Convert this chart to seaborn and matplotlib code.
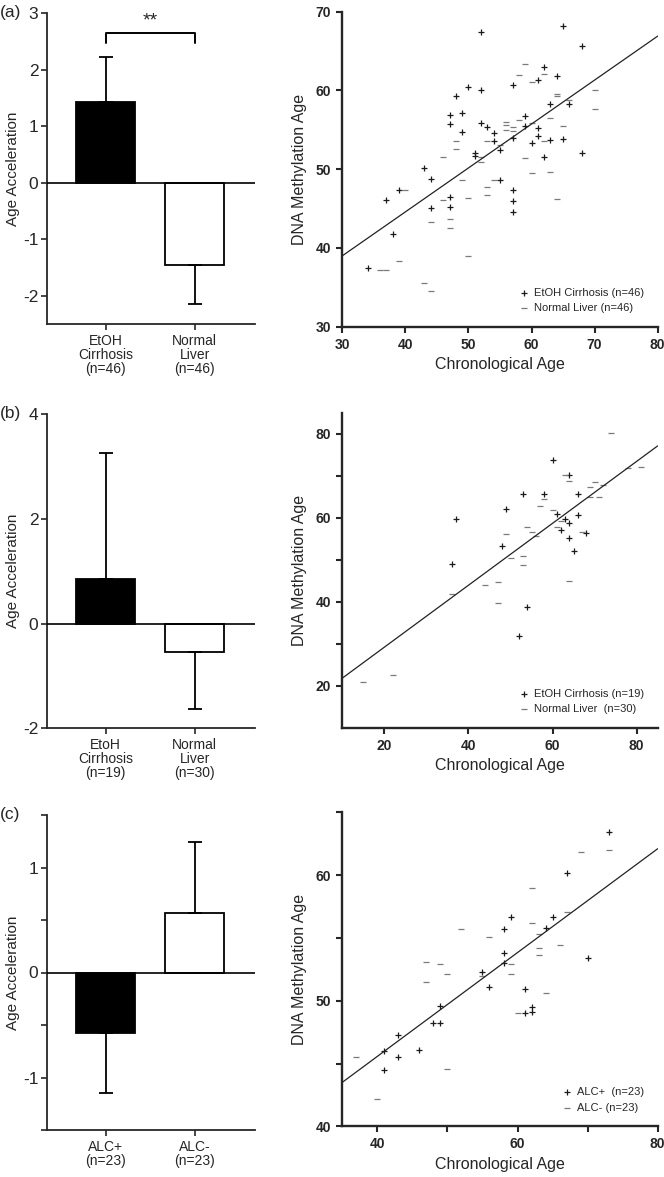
import matplotlib
matplotlib.use("Agg")
import matplotlib.pyplot as plt
import pandas as pd
import seaborn as sns
from matplotlib.ticker import FixedLocator

# ---- panel (a) ----
bar_a_labels = ["EtOH\nCirrhosis\n(n=46)", "Normal\nLiver\n(n=46)"]
bar_a_means = [1.43, -1.45]
bar_a_errs = [0.80, 0.70]

sc_a_plus_x = [52, 65, 68, 62, 61, 64, 57, 50, 52, 48, 47, 47, 49, 49, 52, 53, 54, 54, 59, 59,
               61, 61, 63, 66, 57, 60, 63, 65, 51, 51, 55, 62, 68, 43, 44, 55, 39, 57, 37, 47,
               47, 44, 57, 57, 38, 34]
sc_a_plus_y = [67.4, 68.2, 65.6, 63.0, 61.3, 61.8, 60.7, 60.5, 60.1, 59.3, 56.9, 55.8, 57.2, 54.7,
               55.9, 55.4, 54.6, 53.6, 56.8, 55.5, 55.2, 54.2, 58.3, 58.3, 53.9, 53.3, 53.7, 53.8,
               52.1, 51.7, 52.4, 51.6, 52.1, 50.2, 48.7, 48.6, 47.4, 47.4, 46.1, 46.5, 45.2, 45.1,
               45.9, 44.6, 41.8, 37.5]
sc_a_minus_x = [59, 58, 62, 60, 64, 64, 70, 70, 66, 63, 65, 62, 56, 56, 56, 57, 58, 59, 60, 63,
                53, 54, 52, 52, 48, 48, 46, 49, 40, 53, 53, 50, 46, 64, 47, 47, 44, 50, 39, 36,
                37, 43, 44, 57, 55, 60]
sc_a_minus_y = [63.4, 62.0, 62.1, 61.1, 59.6, 59.3, 60.1, 57.7, 58.8, 56.5, 55.5, 53.6, 56.0, 55.6,
                55.0, 54.8, 56.2, 51.4, 49.5, 49.7, 53.6, 48.6, 51.6, 50.9, 53.6, 52.6, 51.6, 48.6,
                47.4, 47.7, 46.7, 46.4, 46.1, 46.2, 43.7, 42.5, 43.3, 39.0, 38.4, 37.2, 37.2, 35.6,
                34.5, 55.3, 53.1, 55.9]
fit_a_x = [30, 80]
fit_a_y = [39.0, 66.9]

# ---- panel (b) ----
bar_b_labels = ["EtoH\nCirrhosis\n(n=19)", "Normal\nLiver\n(n=30)"]
bar_b_means = [0.85, -0.54]
bar_b_errs = [2.41, 1.10]

sc_b_plus_x = [60, 64, 53, 58, 49, 37, 61, 66, 63, 64, 62, 68, 64, 48, 65, 36, 54, 52, 66]
sc_b_plus_y = [73.7, 70.1, 65.7, 65.6, 62.0, 59.8, 60.9, 60.6, 59.6, 58.7, 57.1, 56.3, 55.2, 53.2,
               52.1, 49.0, 38.8, 31.9, 65.6]
sc_b_minus_x = [74, 63, 64, 70, 69, 72, 78, 81, 69, 71, 58, 57, 60, 61, 54, 56, 49, 67, 50, 53,
                53, 64, 47, 44, 36, 47, 22, 15, 55, 62]
sc_b_minus_y = [80.1, 70.1, 68.8, 68.6, 67.2, 67.9, 71.8, 72.0, 65.0, 65.0, 64.4, 62.8, 61.8, 57.9,
                57.7, 55.6, 56.0, 56.6, 50.4, 50.9, 48.7, 44.9, 44.8, 43.9, 41.8, 39.8, 22.5, 20.8,
                56.5, 59.3]
fit_b_x = [10, 85]
fit_b_y = [21.8, 77.1]

# ---- panel (c) ----
bar_c_labels = ["ALC+\n(n=23)", "ALC-\n(n=23)"]
bar_c_means = [-0.58, 0.57]
bar_c_errs = [0.57, 0.67]

sc_c_plus_x = [73, 67, 59, 65, 58, 64, 58, 58, 70, 55, 56, 61, 62, 62, 61, 49, 48, 49, 43, 41,
               43, 46, 41]
sc_c_plus_y = [63.4, 60.2, 56.7, 56.7, 55.7, 55.8, 53.8, 53.0, 53.4, 52.3, 51.1, 50.9, 49.5, 49.1,
               49.0, 49.6, 48.2, 48.2, 47.3, 46.0, 45.5, 46.1, 44.5]
sc_c_minus_x = [73, 69, 62, 67, 62, 52, 56, 63, 63, 63, 66, 47, 49, 50, 59, 59, 55, 47, 64, 60,
                37, 50, 40]
sc_c_minus_y = [62.0, 61.8, 59.0, 57.1, 56.2, 55.7, 55.1, 55.3, 54.2, 53.6, 54.4, 53.1, 52.9, 52.1,
                52.9, 52.1, 52.0, 51.5, 50.6, 49.0, 45.5, 44.6, 42.2]
fit_c_x = [35, 80]
fit_c_y = [43.5, 62.1]

sns.set_style("ticks")
plt.rcParams["font.family"] = ["Liberation Sans", "DejaVu Sans"]
plt.rcParams["axes.unicode_minus"] = False

W, H = 664, 1177
fig = plt.figure(figsize=(W / 100, H / 100), dpi=100)


def px_axes(left, top, right, bottom):
    return fig.add_axes([left / W, 1 - bottom / H, (right - left) / W, (bottom - top) / H])


def draw_bars(ax, labels, means, errs, ylim, major, minor=None):
    df = pd.DataFrame({"group": labels, "value": means})
    sns.barplot(data=df, x="group", y="value", hue="group", palette=["black", "white"],
                edgecolor="black", linewidth=1.3, width=0.66, errorbar=None, legend=False, ax=ax)
    # error bar drawn only on the outward side of each bar
    lower = [0 if m > 0 else e for m, e in zip(means, errs)]
    upper = [e if m > 0 else 0 for m, e in zip(means, errs)]
    ax.errorbar(range(len(means)), means, yerr=[lower, upper], fmt="none", ecolor="black",
                elinewidth=1.3, capsize=5, capthick=1.3, zorder=1)
    ax.axhline(0, color="black", lw=1.2, zorder=3)
    ax.set_xlim(-0.66, 1.675)
    ax.set_ylim(*ylim)
    ax.yaxis.set_major_locator(FixedLocator(major))
    if minor is not None:
        ax.yaxis.set_minor_locator(FixedLocator(minor))
    sns.despine(ax=ax)
    for s in ["left", "bottom"]:
        ax.spines[s].set_linewidth(1.3)
    ax.tick_params(axis="both", which="major", length=4, width=1.2)
    ax.tick_params(axis="y", which="major", labelsize=12.5, pad=2)
    ax.tick_params(axis="y", which="minor", length=4, width=1.2)
    ax.tick_params(axis="x", labelsize=10, pad=3)
    for t in ax.get_xticklabels():
        t.set_linespacing(1.0)
    ax.set_xlabel("")
    ax.set_ylabel("Age Acceleration", fontsize=11, labelpad=2)


def draw_scatter(ax, xp, yp, xm, ym, labp, labm, fx, fy, xlim, ylim, xmaj, ymaj, xmin=None, ymin=None):
    sns.scatterplot(x=xp, y=yp, marker="+", color="#1a1a1a", s=20, linewidth=0.9, label=labp, ax=ax)
    sns.scatterplot(x=xm, y=ym, marker="_", color="#7a7a7a", s=22, linewidth=0.9, label=labm, ax=ax)
    sns.lineplot(x=fx, y=fy, color="#222222", lw=0.9, ax=ax)
    ax.set_xlim(*xlim)
    ax.set_ylim(*ylim)
    ax.xaxis.set_major_locator(FixedLocator(xmaj))
    ax.yaxis.set_major_locator(FixedLocator(ymaj))
    if xmin is not None:
        ax.xaxis.set_minor_locator(FixedLocator(xmin))
    if ymin is not None:
        ax.yaxis.set_minor_locator(FixedLocator(ymin))
    sns.despine(ax=ax)
    for s in ["left", "bottom"]:
        ax.spines[s].set_linewidth(1.7)
    ax.tick_params(axis="both", which="both", length=4.5, width=1.5, labelsize=10)
    for t in ax.get_xticklabels() + ax.get_yticklabels():
        t.set_fontweight("bold")
    ax.set_xlabel("Chronological Age", fontsize=11.5, labelpad=4)
    ax.set_ylabel("DNA Methylation Age", fontsize=11.5, labelpad=6)
    ax.legend(loc="lower right", frameon=False, fontsize=8, handlelength=0.7,
              handletextpad=0.6, borderaxespad=0.8, labelspacing=0.5)


# (a)
ax1 = px_axes(46.7, 13.3, 255, 324)
draw_bars(ax1, bar_a_labels, bar_a_means, bar_a_errs, (-2.5, 3), [-2, -1, 0, 1, 2, 3])
ax1.plot([0, 0, 1, 1], [2.48, 2.65, 2.65, 2.48], color="black", lw=1.4)
ax1.text(0.5, 2.72, "**", ha="center", va="bottom", fontsize=14)

ax2 = px_axes(342.3, 11.7, 657.7, 326.7)
draw_scatter(ax2, sc_a_plus_x, sc_a_plus_y, sc_a_minus_x, sc_a_minus_y,
             "EtOH Cirrhosis (n=46)", "Normal Liver (n=46)", fit_a_x, fit_a_y,
             (30, 80), (30, 70), [30, 40, 50, 60, 70, 80], [30, 40, 50, 60, 70])

# (b)
ax3 = px_axes(46.7, 414.3, 255, 728.3)
draw_bars(ax3, bar_b_labels, bar_b_means, bar_b_errs, (-2, 4), [-2, 0, 2, 4])

ax4 = px_axes(342.3, 412.7, 657.7, 727.7)
draw_scatter(ax4, sc_b_plus_x, sc_b_plus_y, sc_b_minus_x, sc_b_minus_y,
             "EtOH Cirrhosis (n=19)", "Normal Liver  (n=30)", fit_b_x, fit_b_y,
             (10, 85), (10, 85), [20, 40, 60, 80], [20, 40, 60, 80], ymin=[30, 50, 70])

# (c)
ax5 = px_axes(46.7, 815, 255, 1130)
draw_bars(ax5, bar_c_labels, bar_c_means, bar_c_errs, (-1.5, 1.5), [-1, 0, 1],
          minor=[-1.5, -0.5, 0.5, 1.5])

ax6 = px_axes(342.3, 812.3, 657.7, 1126.3)
draw_scatter(ax6, sc_c_plus_x, sc_c_plus_y, sc_c_minus_x, sc_c_minus_y,
             "ALC+  (n=23)", "ALC- (n=23)", fit_c_x, fit_c_y,
             (35, 80), (40, 65), [40, 60, 80], [40, 50, 60], xmin=[50, 70], ymin=[45, 55, 65])

for lab, y in [("(a)", 13), ("(b)", 414), ("(c)", 815)]:
    fig.text(0.0, 1 - y / H, lab, ha="left", va="center", fontsize=12.5)

fig.savefig("out.png", dpi=100)
